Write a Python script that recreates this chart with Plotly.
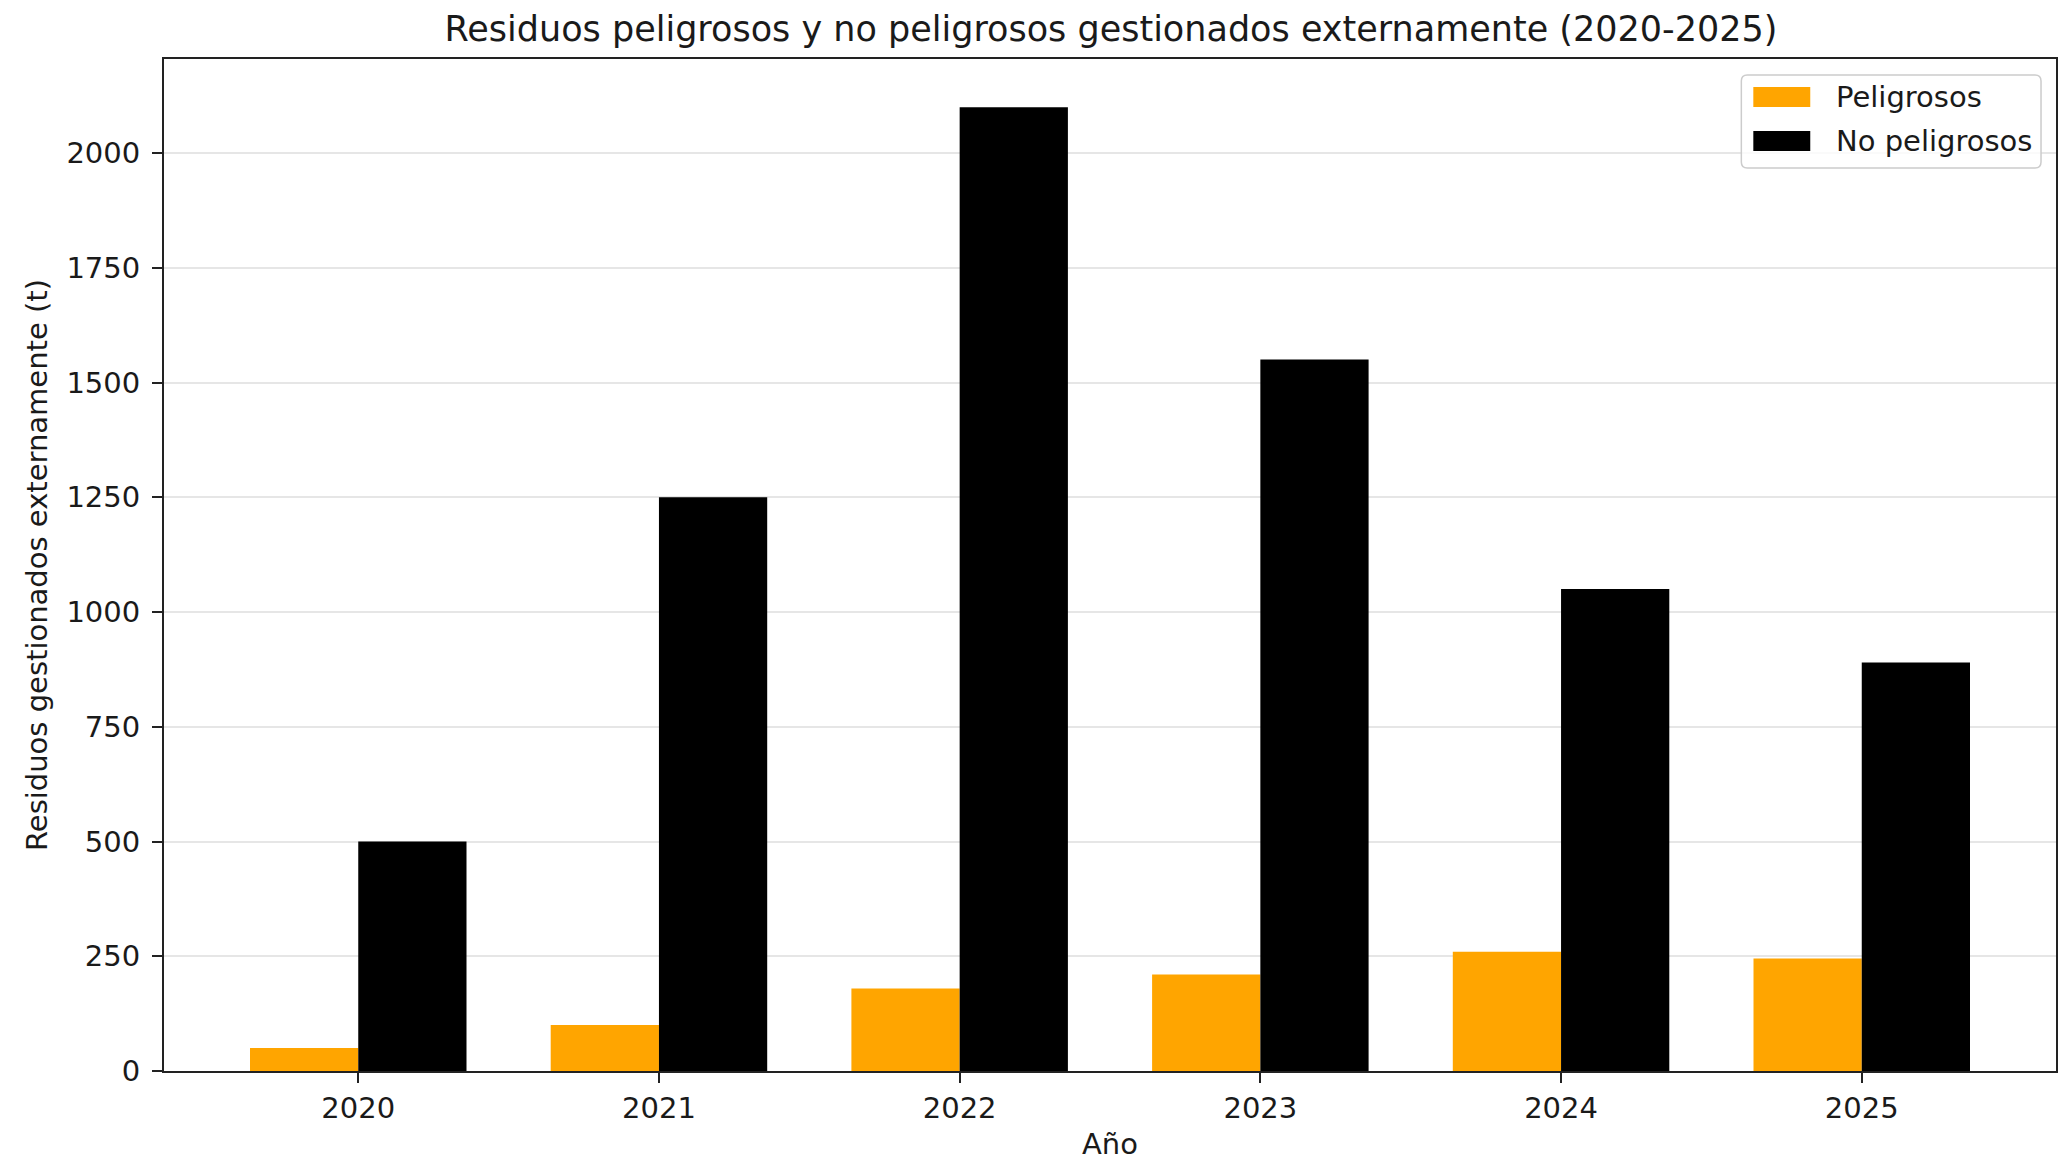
import plotly.graph_objects as go

years = [2020, 2021, 2022, 2023, 2024, 2025]
peligrosos = [50, 100, 180, 210, 260, 245]
no_peligrosos = [500, 1250, 2100, 1550, 1050, 890]
yticks = [0, 250, 500, 750, 1000, 1250, 1500, 1750, 2000]
series_names = ["Peligrosos", "No peligrosos"]
series_colors = ["#FFA500", "#000000"]

FONT = "DejaVu Sans"
TXT = "#1a1a1a"
W, H = 2059, 1162
L, R, T, B = 164, 1, 59, 91
PW, PH = W - L - R, H - T - B


def px(xp):
    return (xp - L) / PW


def py(yp):
    return 1 - (yp - T) / PH


fig = go.Figure()
for name, vals, col in zip(series_names, [peligrosos, no_peligrosos], series_colors):
    fig.add_trace(go.Bar(x=years, y=vals, name=name,
                         marker=dict(color=col, line=dict(width=0))))

# matplotlib-style legend (frame + wide patches)
shapes = []
x0, x1, y0, y1, rad = 1743, 2043, 75, 168, 6
rx, ry = rad / PW, rad / PH
X0, X1, Y0, Y1 = px(x0), px(x1), py(y0), py(y1)
path = (f"M {X0+rx},{Y0} L {X1-rx},{Y0} Q {X1},{Y0} {X1},{Y0-ry} "
        f"L {X1},{Y1+ry} Q {X1},{Y1} {X1-rx},{Y1} L {X0+rx},{Y1} "
        f"Q {X0},{Y1} {X0},{Y1+ry} L {X0},{Y0-ry} Q {X0},{Y0} {X0+rx},{Y0} Z")
shapes.append(dict(type="path", xref="paper", yref="paper", path=path,
                   fillcolor="rgba(255,255,255,0.8)",
                   line=dict(color="#cccccc", width=1.5), layer="above"))
annotations = []
rows = [(87, 107, 97), (131, 151, 141)]
for (ya, yb, yc), name, col in zip(rows, series_names, series_colors):
    shapes.append(dict(type="rect", xref="paper", yref="paper",
                       x0=px(1755), x1=px(1812), y0=py(yb), y1=py(ya),
                       fillcolor=col, line=dict(width=0), layer="above"))
    annotations.append(dict(text=name, xref="paper", yref="paper",
                            x=px(1836), y=py(yc), xanchor="left", yanchor="middle",
                            showarrow=False,
                            font=dict(family=FONT, size=29, color=TXT)))

fig.update_layout(
    width=W, height=H,
    margin=dict(l=L, r=R, t=T, b=B),
    paper_bgcolor="white", plot_bgcolor="white",
    font=dict(family=FONT, size=29, color=TXT),
    barmode="group", bargap=0.28, bargroupgap=0,
    title=dict(text="Residuos peligrosos y no peligrosos gestionados externamente (2020-2025)",
               x=(L + PW / 2) / W, xanchor="center", y=1 - 29 / H, yanchor="middle",
               font=dict(family=FONT, size=35, color=TXT)),
    showlegend=False,
    shapes=shapes,
    annotations=annotations,
)
fig.update_xaxes(
    range=[2019.354, 2025.646], tickvals=years, ticktext=[str(y) for y in years],
    showline=True, linecolor="#222222", linewidth=2, mirror=True,
    ticks="outside", ticklen=10, tickwidth=2, tickcolor="#222222",
    showgrid=False, zeroline=False,
    title=dict(text="Año", font=dict(family=FONT, size=29, color=TXT), standoff=10),
    tickfont=dict(family=FONT, size=29, color=TXT),
)
fig.update_yaxes(
    range=[0, 2205], tickvals=yticks,
    showline=True, linecolor="#222222", linewidth=2, mirror=True,
    ticks="outside", ticklen=10, tickwidth=2, tickcolor="#222222",
    showgrid=True, gridcolor="rgba(184,184,184,0.35)", gridwidth=1.5,
    zeroline=False, layer="above traces", ticklabelstandoff=6,
    title=dict(text="Residuos gestionados externamente (t)",
               font=dict(family=FONT, size=29, color=TXT), standoff=10),
    tickfont=dict(family=FONT, size=29, color=TXT),
)
fig.write_html("out.html", config={"displayModeBar": False},
               post_script="document.body.style.margin='0';")
